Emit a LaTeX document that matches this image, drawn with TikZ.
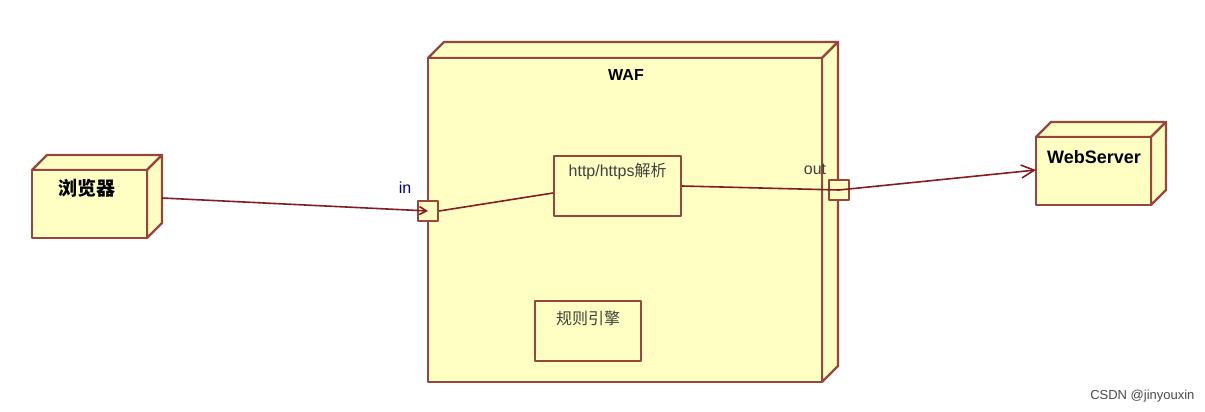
\documentclass[tikz,border=0pt]{standalone}
\usepackage{fontspec}
\setmainfont{Liberation Sans}
\newfontfamily\cjk{Noto Sans CJK SC}
\usetikzlibrary{arrows.meta}
\definecolor{boxfill}{RGB}{255,255,196}
\definecolor{boxline}{RGB}{150,70,60}
\definecolor{conn}{RGB}{130,30,35}
\tikzset{
  face/.style={fill=boxfill,draw=boxline,line width=2.2pt,line join=round},
  comp/.style={face,rectangle,inner sep=0pt,anchor=north west},
  port/.style={face,rectangle,minimum size=17pt,inner sep=0pt},
  link/.style={draw=conn,line width=1.6pt},
  lbl/.style={font=\fontsize{16pt}{18pt}\selectfont,text=black!75}
}
\newcommand{\cube}[5]{% x1,y1,x2,y2,d
  \path[face] (#1,#2) -- ++(#5,-#5) -- (#3+#5,#2-#5) -- (#3,#2) -- cycle;
  \path[face] (#3,#2) -- (#3+#5,#2-#5) -- (#3+#5,#4-#5) -- (#3,#4) -- cycle;
  \path[face] (#1,#2) rectangle (#3,#4);
}
\begin{document}
\begin{tikzpicture}[x=1pt,y=-1pt]
\useasboundingbox[fill=white] (0,0) rectangle (1205,412);
\cube{32}{170}{147}{238}{15}
\node[font=\cjk\bfseries\fontsize{19pt}{21pt}\selectfont] (br) at (87,188) {浏览器};
\coordinate (brR) at (162,198);
\cube{428}{58}{822}{382}{16}
\node[font=\bfseries\fontsize{16pt}{18pt}\selectfont] (waf) at (626,75) {WAF};
\cube{1036}{137}{1151}{205}{15}
\node[font=\bfseries\fontsize{18pt}{20pt}\selectfont] (ws) at (1094,157) {WebServer};
\node[comp,minimum width=127pt,minimum height=60pt] (http) at (553,155) {};
\node[lbl,anchor=north] at (http.north) [yshift=-5pt] {http/https{\cjk 解析}};
\node[comp,minimum width=106pt,minimum height=60pt] (rule) at (534,300) {};
\node[lbl,anchor=north] at (rule.north) [yshift=-7pt] {\cjk 规则引擎};
\node[port,minimum size=20pt] (in) at (428,211) {};
\node[port,minimum size=20pt] (out) at (839,190) {};
\node[lbl,text=blue!40!black] at (405,188) {in};
\node[lbl] at (815,169) {out};
\draw[link,-{Straight Barb[length=7pt,width=8pt]}] (brR) -- (in.center);
\draw[link] (in.east) -- (http.west |- 0,193);
\draw[link] (http.east |- 0,186) -- (out.center);
\draw[link,-{Straight Barb[length=13pt,width=13pt]}] (out.center) -- (1036,170);
\node[font=\fontsize{13pt}{15pt}\selectfont,text=black!70,anchor=east] (wm) at (1198,396) {CSDN @jinyouxin};
\end{tikzpicture}
\end{document}
